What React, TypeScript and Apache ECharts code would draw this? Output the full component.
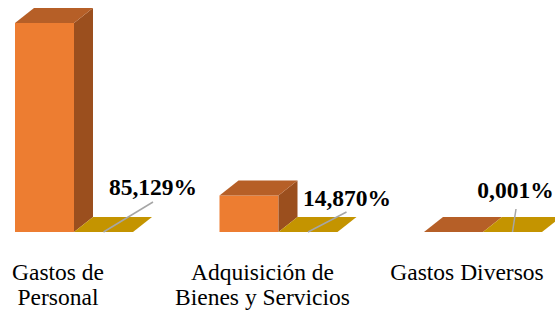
import React, { useEffect, useRef } from "react";
import * as echarts from "echarts";

const categories = ["Gastos de\nPersonal", "Adquisición de\nBienes y Servicios", "Gastos Diversos"];
const pctValues = [85.129, 14.87, 0.001];
const floorValues = [0, 0, 0];
const pctLabels = ["85,129%", "14,870%", "0,001%"];

// label placement (offsets from category centre / axis baseline), leader-line top points
const labelOffsets = [[79, -45], [68.5, -34], [32.5, -42]];
const leaderTops = [[79, -30], [68, -20], [33, -23]];

const BAR_RATIO = 0.2885;
const DX = 19;
const DY = 15;
const SERIF = "Liberation Serif";

function bar3d(x0: number, w: number, yt: number, yb: number, front: string, side: string, top: string) {
  const x1 = x0 + w;
  const children: any[] = [];
  if (yb - yt > 0.5) {
    children.push({ type: "rect", shape: { x: x0, y: yt, width: w, height: yb - yt }, style: { fill: front } });
    children.push({
      type: "polygon",
      shape: { points: [[x1, yt], [x1 + DX, yt - DY], [x1 + DX, yb - DY], [x1, yb]] },
      style: { fill: side },
    });
  }
  children.push({
    type: "polygon",
    shape: { points: [[x0, yt], [x0 + DX, yt - DY], [x1 + DX, yt - DY], [x1, yt]] },
    style: { fill: top },
  });
  return children;
}

export default function App() {
  const ref = useRef<HTMLDivElement>(null);
  useEffect(() => {
    if (!ref.current) return;
    const chart = echarts.init(ref.current, undefined, { renderer: "svg" });
    const shift = 50;
    const totalW = 680;
    const band = 204.5;
    const left = 74 - band / 2 + shift;
    const right = totalW - (left + 3 * band);
    chart.setOption({
      animation: false,
      textStyle: { fontFamily: SERIF },
      grid: { left, right, top: 0, bottom: 78, containLabel: false },
      xAxis: {
        type: "category",
        data: categories,
        axisLine: { show: false },
        axisTick: { show: false },
        splitLine: { show: false },
        axisLabel: {
          interval: 0,
          color: "#000",
          fontFamily: SERIF,
          fontSize: 23.5,
          lineHeight: 25,
          margin: 27,
          padding: [0, 32, 0, 0],
        },
      },
      yAxis: { type: "value", min: 0, max: 94.5, show: false, splitLine: { show: false } },
      series: [
        {
          type: "custom",
          data: pctValues.map((v, i) => [i, v]),
          renderItem: (params: any, api: any) => {
            const i = api.value(0);
            const v = api.value(1);
            const base = api.coord([i, 0]);
            const topPt = api.coord([i, v]);
            const w = api.size([1, 0])[0] * BAR_RATIO;
            const c = base[0];
            return {
              type: "group",
              children: bar3d(c - w, w, topPt[1], base[1], "#ED7D31", "#9B4F1E", "#B65F27"),
            };
          },
        },
        {
          type: "custom",
          data: floorValues.map((v, i) => [i, v]),
          renderItem: (params: any, api: any) => {
            const i = api.value(0);
            const v = api.value(1);
            const base = api.coord([i, 0]);
            const topPt = api.coord([i, v]);
            const w = api.size([1, 0])[0] * BAR_RATIO;
            const c = base[0];
            const children = bar3d(c, w, topPt[1], base[1], "#FFC000", "#A07800", "#C49400");
            const lo = labelOffsets[i];
            const lt = leaderTops[i];
            children.push({
              type: "line",
              shape: { x1: c + lt[0], y1: base[1] + lt[1], x2: c + w / 2, y2: base[1] },
              style: { stroke: "#A6A6A6", lineWidth: 1.5 },
            });
            children.push({
              type: "text",
              style: {
                text: pctLabels[i],
                x: c + lo[0],
                y: base[1] + lo[1],
                align: "center",
                verticalAlign: "middle",
                fill: "#000",
                fontFamily: SERIF,
                fontWeight: "bold",
                fontSize: 23.5,
              },
            });
            return { type: "group", children };
          },
        },
      ],
    });
    return () => chart.dispose();
  }, []);
  return (
    <div style={{ position: "fixed", left: 0, top: 0, width: 555, height: 310, overflow: "hidden", background: "#fff" }}>
      <div ref={ref} style={{ position: "absolute", left: -50, top: 0, width: 680, height: 310 }} />
    </div>
  );
}
